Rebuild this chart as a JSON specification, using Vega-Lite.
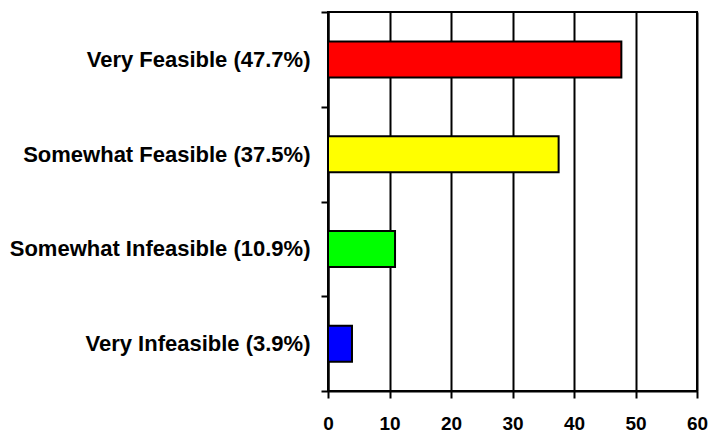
{
  "$schema": "https://vega.github.io/schema/vega-lite/v6.json",
  "autosize": "none",
  "width": 369,
  "height": 379,
  "padding": {"left": 328, "top": 12, "right": 12, "bottom": 41},
  "background": "white",
  "config": {
    "view": {"stroke": "black", "strokeWidth": 2},
    "font": "Liberation Sans"
  },
  "data": {
    "values": [
      {"label": "Very Feasible (47.7%)", "value": 47.7, "color": "#FF0000"},
      {"label": "Somewhat Feasible (37.5%)", "value": 37.5, "color": "#FFFF00"},
      {"label": "Somewhat Infeasible (10.9%)", "value": 10.9, "color": "#00FF00"},
      {"label": "Very Infeasible (3.9%)", "value": 3.9, "color": "#0000FF"}
    ]
  },
  "mark": {"type": "bar", "size": 36, "stroke": "black", "strokeWidth": 2},
  "encoding": {
    "y": {
      "field": "label",
      "type": "nominal",
      "sort": null,
      "scale": {"paddingInner": 0, "paddingOuter": 0},
      "axis": {
        "title": null,
        "tickBand": "extent",
        "tickSize": 7,
        "tickWidth": 2,
        "tickColor": "black",
        "domainColor": "black",
        "domainWidth": 2,
        "labelFont": "Liberation Sans",
        "labelFontWeight": "bold",
        "labelFontSize": 22,
        "labelColor": "black",
        "labelPadding": 11,
        "labelLimit": 400,
        "grid": false
      }
    },
    "x": {
      "field": "value",
      "type": "quantitative",
      "scale": {"domain": [0, 60], "nice": false},
      "axis": {
        "title": null,
        "values": [0, 10, 20, 30, 40, 50, 60],
        "grid": true,
        "gridColor": "black",
        "gridWidth": 2,
        "gridOpacity": 1,
        "tickSize": 7,
        "tickWidth": 2,
        "tickColor": "black",
        "domainColor": "black",
        "domainWidth": 2,
        "labelFont": "Liberation Sans",
        "labelFontWeight": "bold",
        "labelFontSize": 19,
        "labelColor": "black",
        "labelPadding": 16,
        "labelFlush": false
      }
    },
    "fill": {"field": "color", "type": "nominal", "scale": null, "legend": null}
  }
}
